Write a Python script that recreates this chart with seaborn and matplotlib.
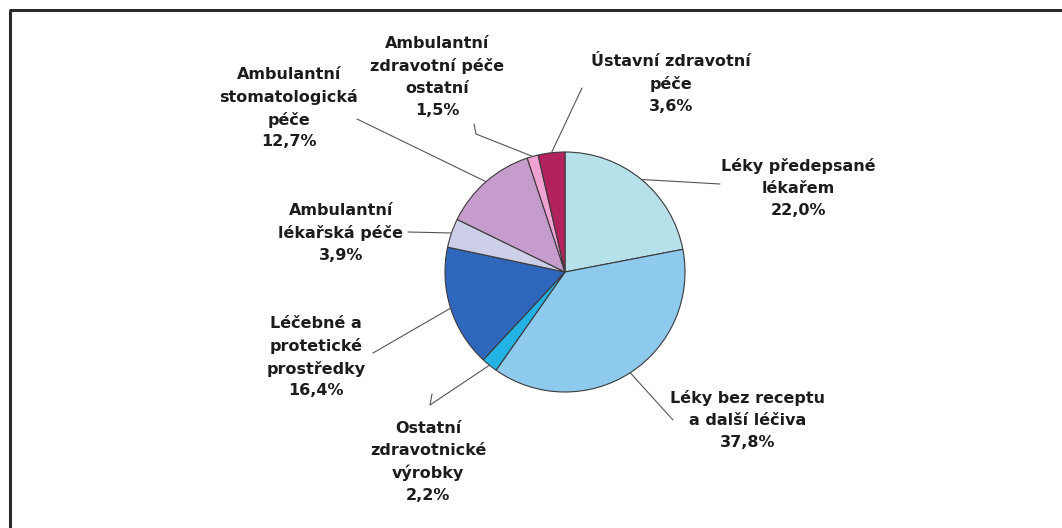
import matplotlib
matplotlib.use("Agg")
import matplotlib.pyplot as plt
import seaborn as sns
import numpy as np

sns.set_theme(style="white")
plt.rcParams["font.family"] = ["DejaVu Sans"]

# Shares of household health spending (%), clockwise from 12 o'clock
categories = [
    "Léky předepsané\nlékařem",
    "Léky bez receptu\na další léčiva",
    "Ostatní\nzdravotnické\nvýrobky",
    "Léčebné a\nprotetické\nprostředky",
    "Ambulantní\nlékařská péče",
    "Ambulantní\nstomatologická\npéče",
    "Ambulantní\nzdravotní péče\nostatní",
    "Ústavní zdravotní\npéče",
]
shares = [22.0, 37.8, 2.2, 16.4, 3.9, 12.7, 1.5, 3.6]
colors = ["#b6e0ea", "#8ec9ee", "#22b2e4", "#2f67bd",
          "#cdcfe9", "#c69ccd", "#f0a3d2", "#b2225c"]

W, H = 1062, 528
fig = plt.figure(figsize=(W / 100, H / 100), dpi=100)
ax = fig.add_axes([0, 0, 1, 1])

cx, cy, r = 565, H - 272, 120
wedges, _ = ax.pie(shares, colors=colors, startangle=90, counterclock=False,
                   center=(cx, cy), radius=r, frame=True,
                   wedgeprops=dict(edgecolor="#3a3a3a", linewidth=0.8))
ax.set_xlim(0, W)
ax.set_ylim(0, H)
ax.set_aspect("equal")
ax.axis("off")

# label block centres and leader-line elbows (pixel layout, y measured from top)
label_pos = [(798, 188), (748, 420), (428, 462), (316, 357),
             (341, 233), (289, 108), (437, 77), (671, 84)]
leader_pts = [
    [(720, 184)],
    [(673, 420)],
    [(432, 394), (430, 405)],
    [(373, 353)],
    [(408, 232)],
    [(357, 119)],
    [(474, 124), (476, 134)],
    [(582, 88)],
]

for w, name, val, (lx, ly), pts in zip(wedges, categories, shares,
                                       label_pos, leader_pts):
    mid = np.deg2rad((w.theta1 + w.theta2) / 2)
    ex, ey = cx + r * np.cos(mid), cy + r * np.sin(mid)
    xs = [ex] + [p[0] for p in reversed(pts)]
    ys = [ey] + [H - p[1] for p in reversed(pts)]
    ax.plot(xs, ys, color="#555555", lw=0.8)
    txt = f"{name}\n{val:.1f}%".replace(".", ",")
    ax.text(lx, H - ly, txt, ha="center", va="center", fontsize=11.5,
            fontweight="bold", color="#1c1c1c", linespacing=1.55)

# chart frame (left and top edges)
ax.plot([10, 10], [0, H - 10], color="#2a2a2a", lw=2.2, solid_capstyle="butt")
ax.plot([9, W], [H - 10, H - 10], color="#2a2a2a", lw=2.2, solid_capstyle="butt")

fig.savefig("out.png", dpi=100)
